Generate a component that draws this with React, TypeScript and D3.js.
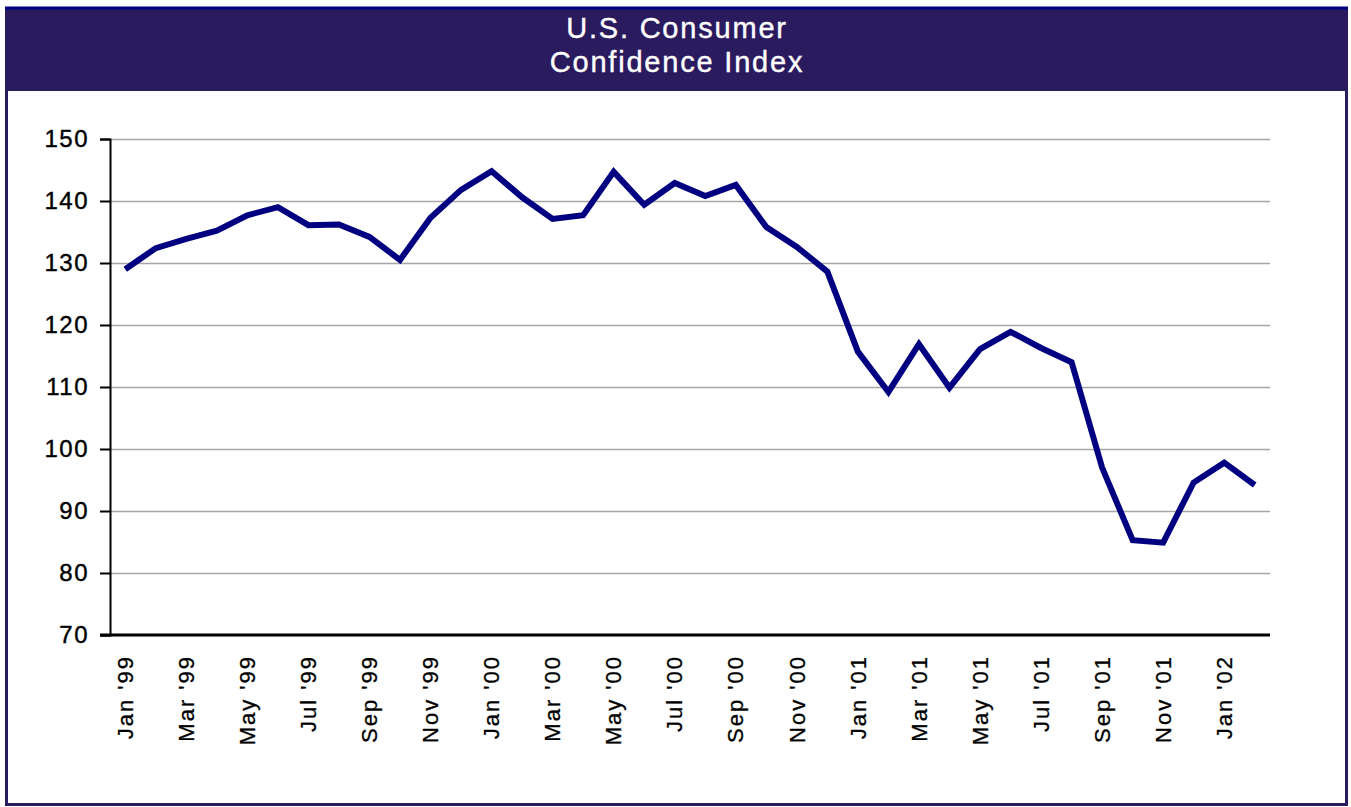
import React, { useEffect, useRef } from 'react';
import * as d3 from 'd3';

// Monthly index, Jan '99 .. Feb '02
const months = [
  "Jan '99", "Feb '99", "Mar '99", "Apr '99", "May '99", "Jun '99", "Jul '99", "Aug '99", "Sep '99", "Oct '99", "Nov '99", "Dec '99",
  "Jan '00", "Feb '00", "Mar '00", "Apr '00", "May '00", "Jun '00", "Jul '00", "Aug '00", "Sep '00", "Oct '00", "Nov '00", "Dec '00",
  "Jan '01", "Feb '01", "Mar '01", "Apr '01", "May '01", "Jun '01", "Jul '01", "Aug '01", "Sep '01", "Oct '01", "Nov '01", "Dec '01",
  "Jan '02", "Feb '02"
];
const values = [
  129.0, 132.4, 133.9, 135.2, 137.7, 139.0, 136.1, 136.2, 134.2, 130.5, 137.3, 141.8,
  144.8, 140.6, 137.1, 137.7, 144.7, 139.4, 142.9, 140.8, 142.6, 135.8, 132.6, 128.6,
  115.7, 109.2, 116.9, 109.9, 116.1, 118.9, 116.3, 114.0, 97.0, 85.3, 84.9, 94.6,
  97.8, 94.2
];
const yTicks = [70, 80, 90, 100, 110, 120, 130, 140, 150];
const titleLines = ['U.S. Consumer', 'Confidence Index'];

const W = 1351;
const H = 807;
const FONT = 'Arial, "Liberation Sans", sans-serif';

const App = () => {
  const ref = useRef<SVGSVGElement | null>(null);

  useEffect(() => {
    if (!ref.current) return;
    const svg = d3.select(ref.current);
    svg.selectAll('*').remove();

    const margin = { top: 139, right: 81, bottom: 172, left: 110 };

    // frame + title banner
    svg.append('rect').attr('x', 0).attr('y', 0).attr('width', W).attr('height', H).attr('fill', '#fff');
    svg.append('rect')
      .attr('x', 6.5).attr('y', 8.5).attr('width', 1340).attr('height', 796)
      .attr('fill', 'none').attr('stroke', '#2a1a5e').attr('stroke-width', 3);
    svg.append('rect')
      .attr('x', 5).attr('y', 7).attr('width', 1343).attr('height', 84)
      .attr('fill', '#2a1a5e');
    svg.append('line')
      .attr('x1', 5).attr('x2', 1348).attr('y1', 8).attr('y2', 8)
      .attr('stroke', '#000080').attr('stroke-width', 3);

    svg.selectAll('.title')
      .data(titleLines)
      .enter().append('text')
      .attr('class', 'title')
      .attr('x', 677)
      .attr('y', (d, i) => 38 + i * 34)
      .attr('text-anchor', 'middle')
      .attr('fill', '#fff')
      .attr('stroke', '#fff')
      .attr('stroke-width', 0.4)
      .style('font-family', FONT)
      .style('font-size', '29px')
      .style('letter-spacing', '1.8px')
      .text(d => d);

    const x = d3.scaleBand<string>()
      .domain(months)
      .range([margin.left, W - margin.right]);

    const y = d3.scaleLinear()
      .domain([70, 150])
      .range([H - margin.bottom, margin.top]);

    // gridlines
    svg.append('g')
      .selectAll('line')
      .data(yTicks.slice(1))
      .enter().append('line')
      .attr('x1', margin.left)
      .attr('x2', W - margin.right)
      .attr('y1', d => Math.round(y(d)) + 0.5)
      .attr('y2', d => Math.round(y(d)) + 0.5)
      .attr('stroke', '#a6a6a6')
      .attr('stroke-width', 1.5);

    // y axis
    const yAxis = svg.append('g')
      .attr('transform', `translate(${margin.left},0)`)
      .call(d3.axisLeft(y).tickValues(yTicks).tickSize(10).tickPadding(11));
    yAxis.select('.domain').attr('stroke', '#000').attr('stroke-width', 2);
    yAxis.selectAll('.tick line').attr('stroke', '#000').attr('stroke-width', 2);
    yAxis.selectAll('.tick text')
      .attr('fill', '#000')
      .attr('stroke', '#000')
      .attr('stroke-width', 0.4)
      .style('font-family', FONT)
      .style('font-size', '24px')
      .style('letter-spacing', '1.5px');

    // x axis
    const xAxis = svg.append('g')
      .attr('transform', `translate(0,${H - margin.bottom})`)
      .call(d3.axisBottom(x).tickValues(months.filter((d, i) => i % 2 === 0)).tickSize(0));
    xAxis.select('.domain').remove();
    xAxis.append('line')
      .attr('x1', margin.left - 10).attr('x2', W - margin.right)
      .attr('y1', 0).attr('y2', 0)
      .attr('stroke', '#000').attr('stroke-width', 3);
    xAxis.selectAll('.tick text')
      .attr('fill', '#000')
      .attr('stroke', '#000')
      .attr('stroke-width', 0.3)
      .style('font-family', FONT)
      .style('font-size', '22px')
      .style('letter-spacing', '2px')
      .attr('transform', 'rotate(-90)')
      .attr('text-anchor', 'end')
      .attr('x', -20)
      .attr('y', 0)
      .attr('dy', '0.35em');

    // line
    const line = d3.line<number>()
      .x((d, i) => (x(months[i]) as number) + x.bandwidth() / 2)
      .y(d => y(d));

    svg.append('path')
      .datum(values)
      .attr('d', line)
      .attr('fill', 'none')
      .attr('stroke', '#000080')
      .attr('stroke-width', 6)
      .attr('stroke-linejoin', 'miter');
  }, []);

  return (
    <div style={{ position: 'absolute', left: 0, top: 0 }}>
      <svg ref={ref} width={W} height={H} style={{ display: 'block' }} />
    </div>
  );
};

export default App;
